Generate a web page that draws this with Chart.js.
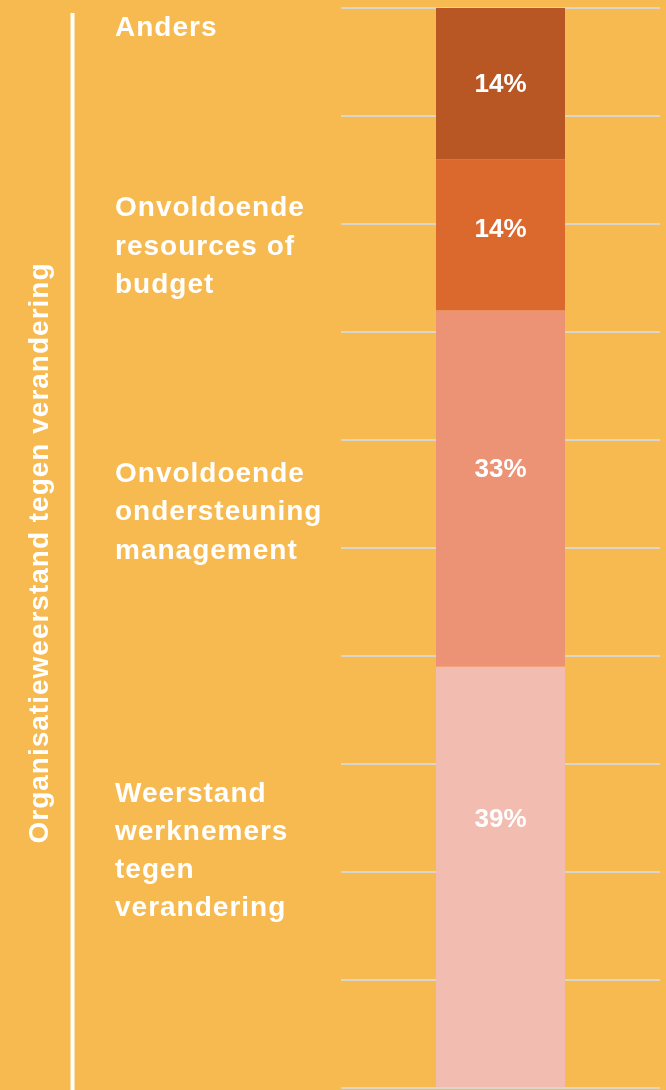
<!DOCTYPE html>
<html>
<head>
<meta charset="utf-8">
<script src="https://cdn.jsdelivr.net/npm/chart.js@4/dist/chart.umd.min.js"></script>
<style>
  html, body { margin: 0; padding: 0; background: #F7BA50; }
  #wrap { width: 666px; height: 1090px; }
  canvas { display: block; }
</style>
</head>
<body>
<div id="wrap"><canvas id="c" width="666" height="1090"></canvas></div>
<script>
// ---- Data ----
const categories = ['Organisatieweerstand tegen verandering'];
const seriesNames = [
  'Weerstand werknemers tegen verandering',
  'Onvoldoende ondersteuning management',
  'Onvoldoende resources of budget',
  'Anders'
];
const seriesValues = [39, 33, 14, 14];
const seriesLabelLines = [
  ['Weerstand', 'werknemers', 'tegen', 'verandering'],
  ['Onvoldoende', 'ondersteuning', 'management'],
  ['Onvoldoende', 'resources of', 'budget'],
  ['Anders']
];
const seriesColors = ['#F3BCB0', '#EC9275', '#DB692D', '#B85724'];
const axisTitle = 'Organisatieweerstand tegen verandering';

// ---- Plugin: side labels, axis title, value labels ----
const decorPlugin = {
  id: 'decor',
  afterDatasetsDraw(chart, args, opts) {
    const ctx = chart.ctx;
    const y = chart.scales.y;
    ctx.save();
    ctx.fillStyle = '#FFFFFF';
    ctx.font = 'bold 26px "Liberation Sans", Arial, sans-serif';
    ctx.textAlign = 'center';
    ctx.textBaseline = 'middle';
    chart.data.datasets.forEach((ds, i) => {
      const meta = chart.getDatasetMeta(i);
      const bar = meta.data[0];
      const py = y.getPixelForValue(opts.valueLabelAt[i]);
      ctx.fillText(Math.round(ds.data[0]) + '%', bar.x, py);
    });
    ctx.restore();
  },
  afterDraw(chart, args, opts) {
    const ctx = chart.ctx;
    const y = chart.scales.y;
    ctx.save();
    // vertical divider
    ctx.strokeStyle = '#FFFFFF';
    ctx.lineWidth = 4;
    ctx.beginPath();
    ctx.moveTo(72.5, 13);
    ctx.lineTo(72.5, 1090);
    ctx.stroke();
    // axis title
    ctx.fillStyle = '#FFFFFF';
    ctx.font = 'bold 28px "Liberation Sans", Arial, sans-serif';
    try { ctx.letterSpacing = '1px'; } catch (e) {}
    ctx.save();
    ctx.translate(48, 553);
    ctx.rotate(-Math.PI / 2);
    ctx.textAlign = 'center';
    ctx.textBaseline = 'alphabetic';
    ctx.fillText(axisTitle, 0, 0);
    ctx.restore();
    // series labels
    ctx.textAlign = 'left';
    ctx.textBaseline = 'alphabetic';
    seriesLabelLines.forEach((lines, i) => {
      const base = y.getPixelForValue(opts.nameLabelAt[i]);
      lines.forEach((ln, k) => {
        ctx.fillText(ln, 115, base + k * 38.2);
      });
    });
    ctx.restore();
  }
};

const datasets = seriesNames.map((name, i) => ({
  label: name,
  data: [seriesValues[i]],
  backgroundColor: seriesColors[i],
  borderWidth: 0,
  barPercentage: 1,
  categoryPercentage: 129 / 319
}));

new Chart(document.getElementById('c'), {
  type: 'bar',
  data: { labels: categories, datasets },
  options: {
    responsive: false,
    animation: false,
    layout: { padding: { left: 341, right: 6, top: 8, bottom: 2 } },
    plugins: {
      legend: { display: false },
      tooltip: { enabled: false },
      title: { display: false },
      decor: {
        valueLabelAt: [24.85, 57.25, 79.45, 92.9],
        nameLabelAt: [26.5, 56.1, 80.7, 97.4]
      }
    },
    scales: {
      x: {
        stacked: true,
        display: false,
        grid: { display: false }
      },
      y: {
        stacked: true,
        min: 0,
        max: 100,
        ticks: { display: false, stepSize: 10 },
        border: { display: false },
        grid: { color: '#DAD6CE', lineWidth: 2, drawTicks: false }
      }
    }
  },
  plugins: [decorPlugin]
});
</script>
</body>
</html>
